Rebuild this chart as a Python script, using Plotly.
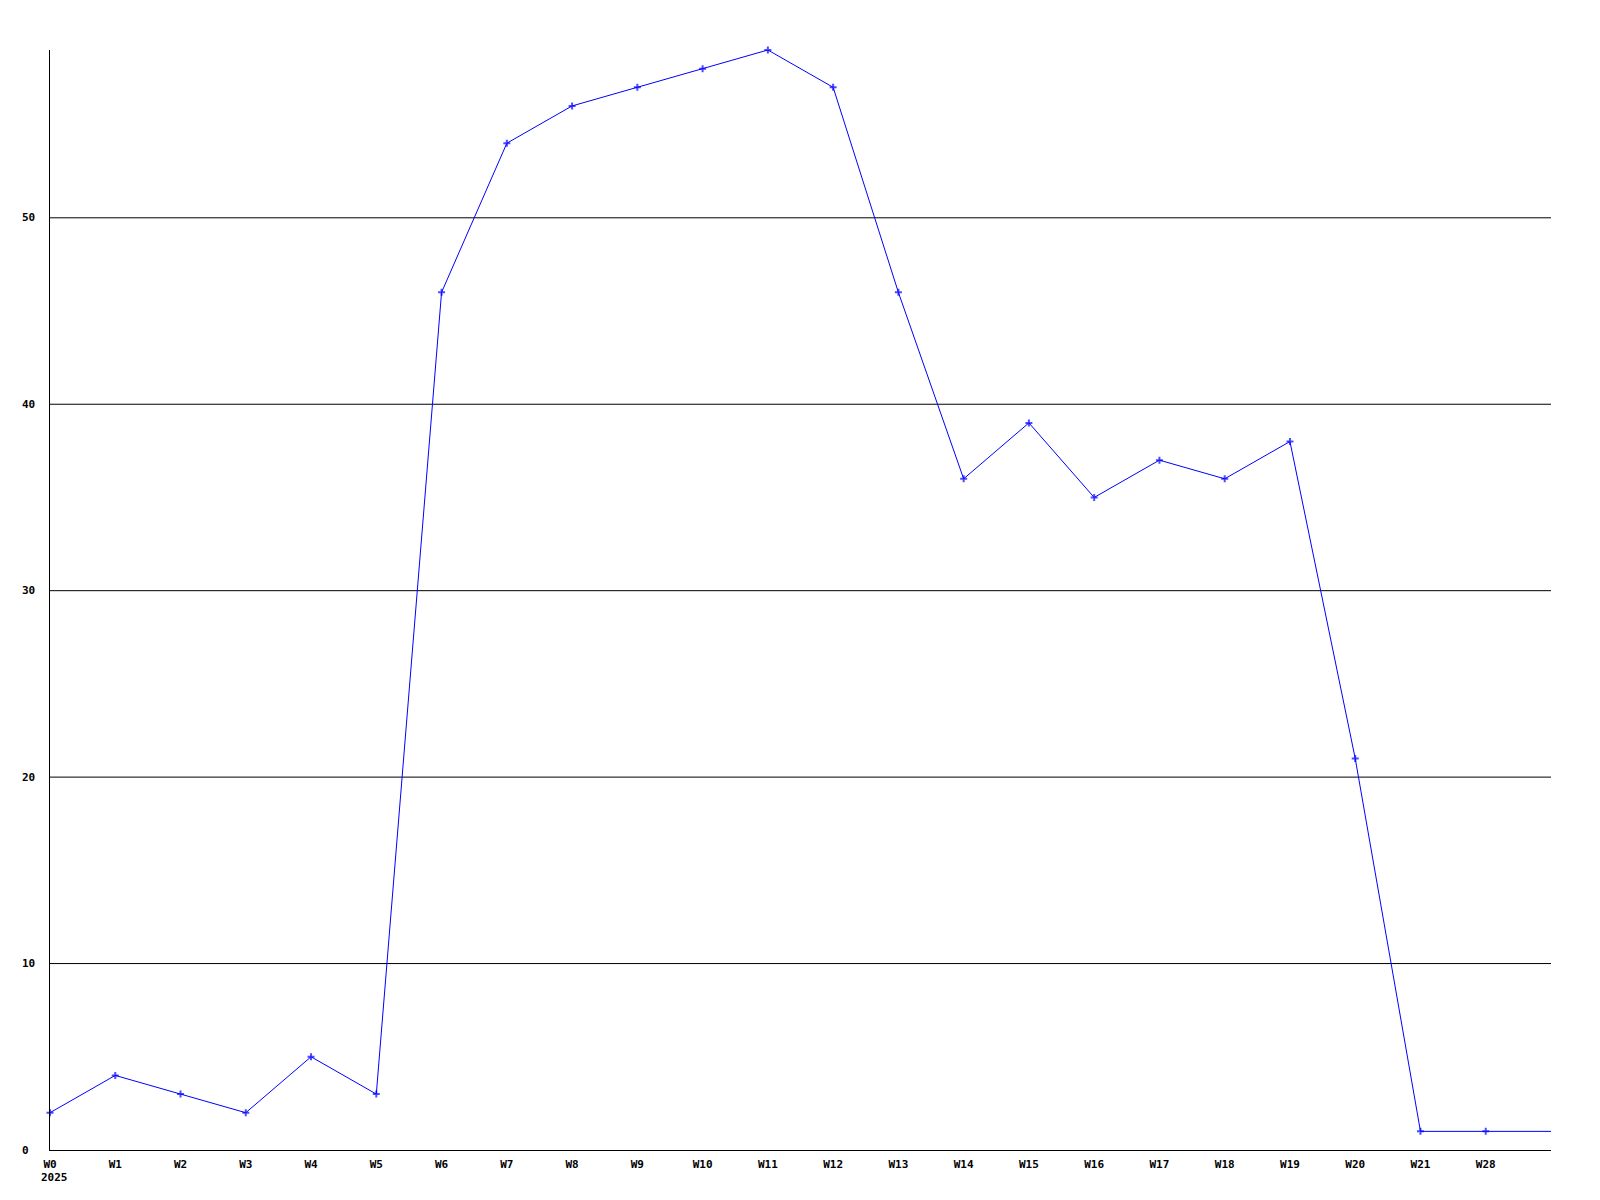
import plotly.graph_objects as go

weeks = ["W0", "W1", "W2", "W3", "W4", "W5", "W6", "W7", "W8", "W9", "W10", "W11",
         "W12", "W13", "W14", "W15", "W16", "W17", "W18", "W19", "W20", "W21", "W28", ""]
values = [2, 4, 3, 2, 5, 3, 46, 54, 56, 57, 58, 59, 57, 46, 36, 39, 35, 37, 36, 38, 21, 1, 1, 1]
year_label = "2025"
y_ticks = [0, 10, 20, 30, 40, 50]

xs = list(range(len(weeks)))
font = dict(family="DejaVu Sans Mono", size=11, color="black")

fig = go.Figure()
fig.add_trace(go.Scatter(
    x=xs, y=values, mode="lines+markers",
    line=dict(color="#0000FF", width=1),
    marker=dict(symbol="cross-thin", size=[5] * (len(xs) - 1) + [0],
                line=dict(color="#0000FF", width=2), color="#0000FF"),
    cliponaxis=False, showlegend=False,
))

# page has an 8px body margin
W, H = 1584, 1184
L, R, T, B = 42, 41, 42, 42
pw = W - L - R

for v in y_ticks:
    fig.add_annotation(x=-30 / pw, xref="paper", y=v, yref="y",
                       text="<b>%d</b>" % v, showarrow=False, xanchor="left",
                       yanchor="middle", font=font)
    if v > 0:
        fig.add_shape(type="line", xref="paper", x0=0, x1=1, yref="y", y0=v, y1=v,
                      line=dict(color="black", width=1), layer="below")

fig.add_annotation(x=0, xref="x", xshift=-11, y=0, yref="paper", yshift=-27,
                   text="<b>%s</b>" % year_label, showarrow=False,
                   xanchor="left", yanchor="middle", font=font)

fig.update_layout(
    width=W, height=H, margin=dict(l=L, r=R, t=T, b=B),
    paper_bgcolor="white", plot_bgcolor="white",
    xaxis=dict(range=[0, len(xs) - 1], tickvals=xs[:-1],
               ticktext=["<b>%s</b>" % w for w in weeks[:-1]],
               showgrid=False, zeroline=False, showline=True, linecolor="black",
               linewidth=1, ticks="", tickfont=font, ticklabelstandoff=4),
    yaxis=dict(range=[0, 59], showgrid=False, zeroline=False, showline=True,
               linecolor="black", linewidth=1, showticklabels=False, ticks=""),
)

fig.write_html("out.html")
